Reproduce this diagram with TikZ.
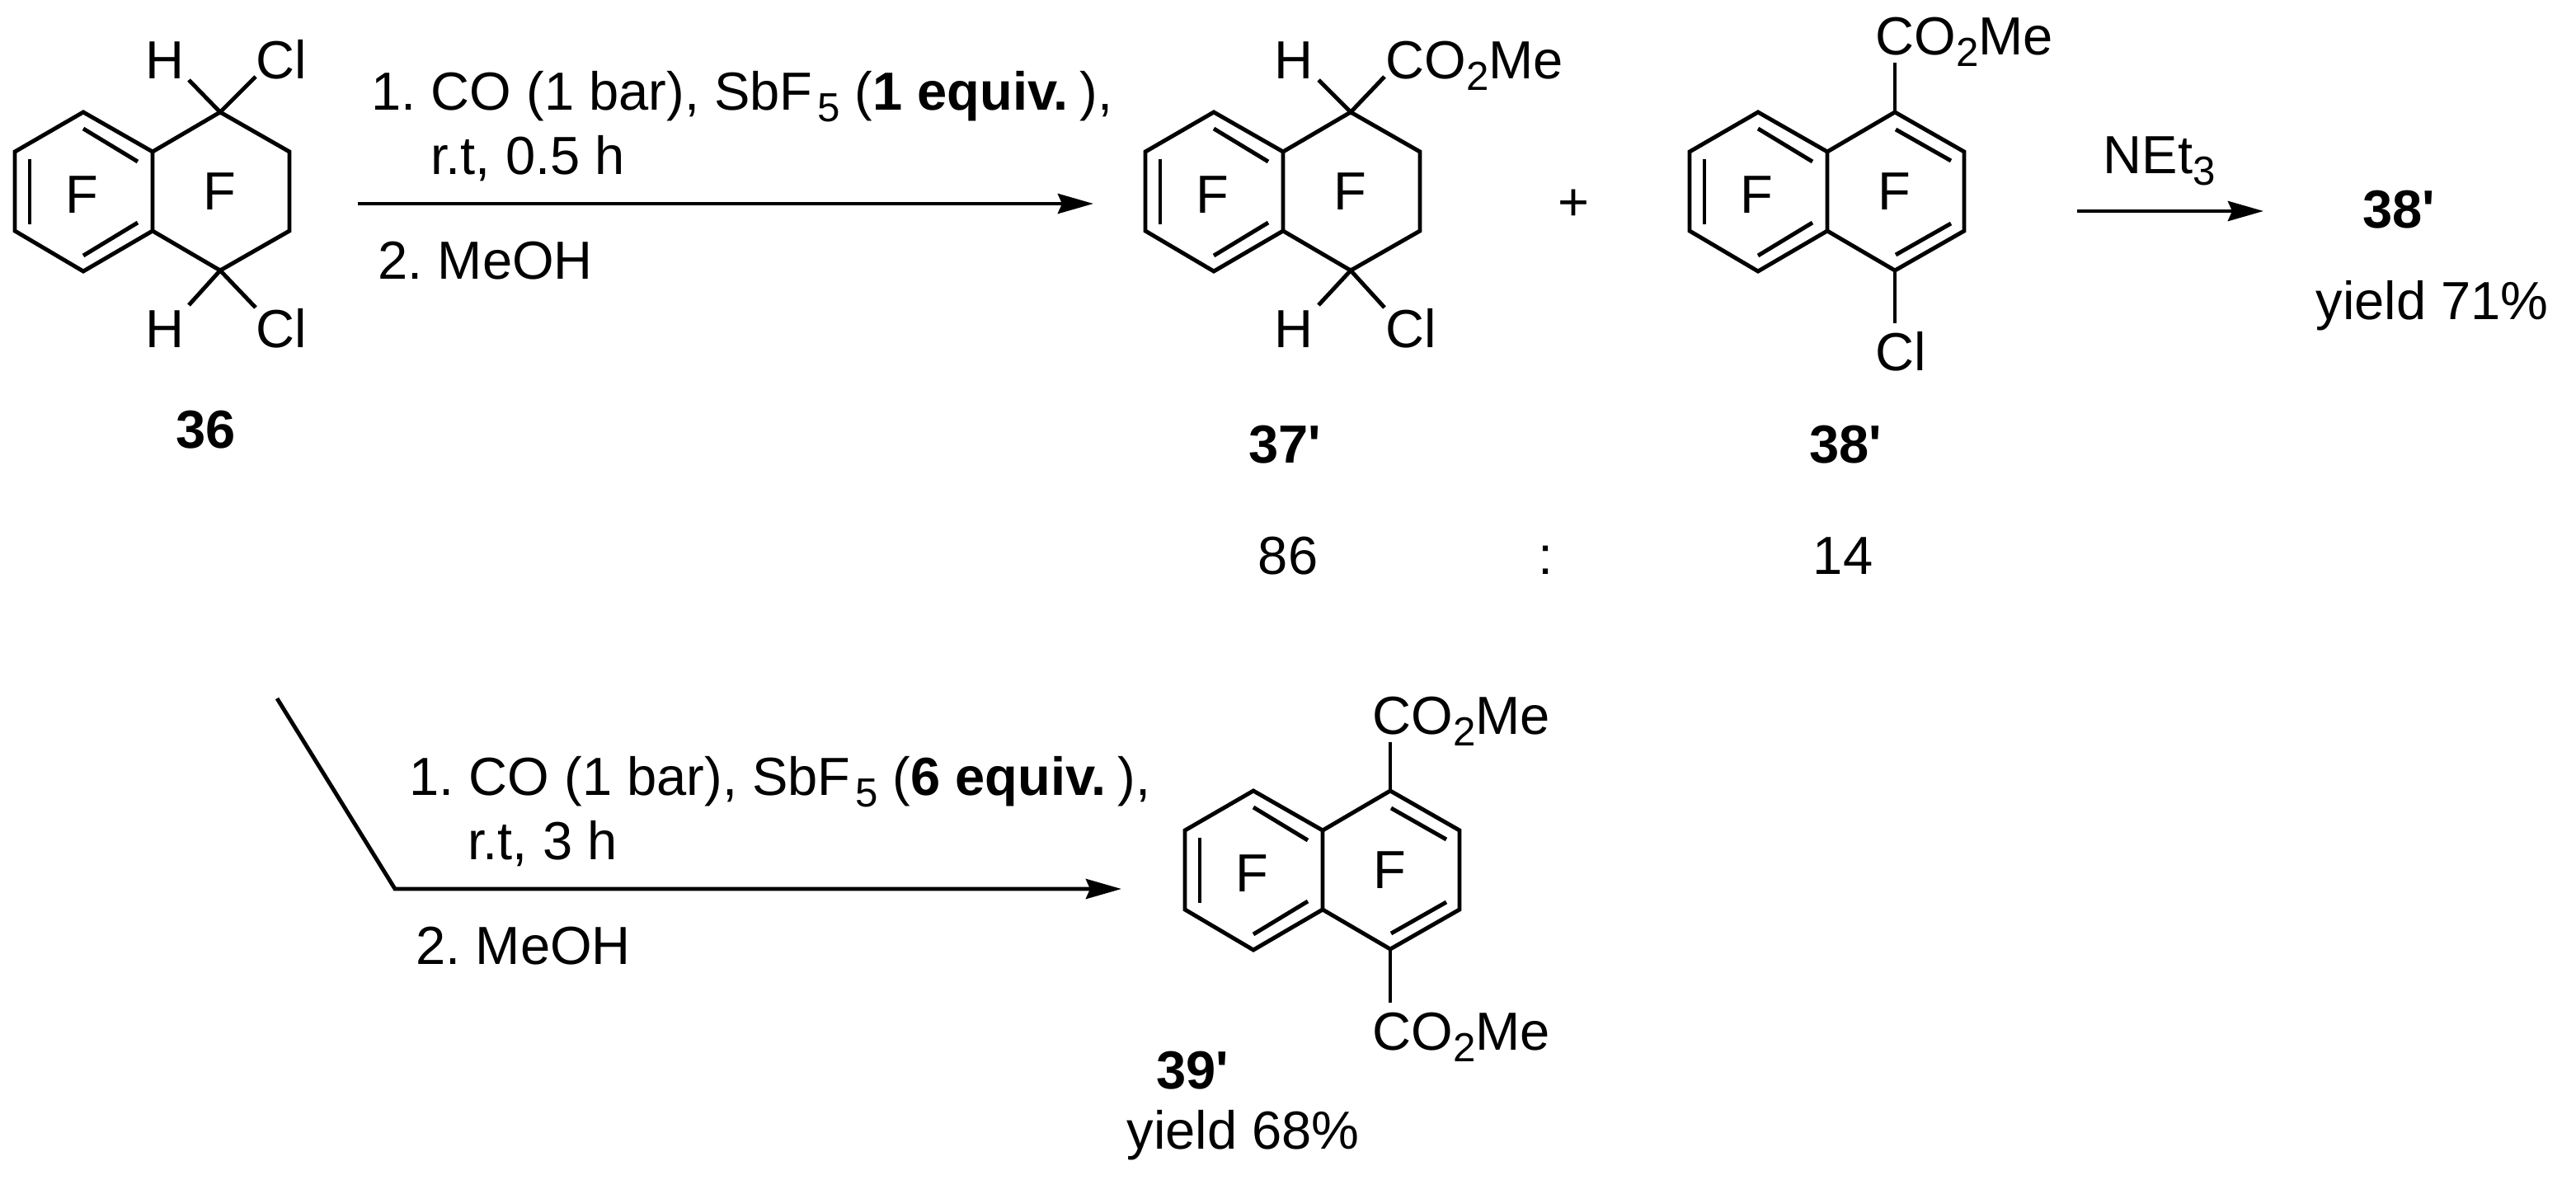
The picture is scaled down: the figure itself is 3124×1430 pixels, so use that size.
\documentclass[tikz,border=0pt]{standalone}
\usepackage{fontspec}
\setmainfont{Liberation Sans}[Ligatures=TeXOff]
\usetikzlibrary{arrows.meta}
\usetikzlibrary{positioning}
\frenchspacing
\newcommand{\subs}[1]{\raisebox{-4pt}{\fontsize{14}{14}\selectfont #1}}
\newcommand{\ester}{CO\subs{2}Me}
\newcommand{\reagent}[1]{1. CO (1 bar), SbF\kern1.5pt\subs{5} (\textbf{#1 equiv.}\kern4pt),}
\tikzset{
	bond/.style={line width=1.4pt},
	react/.style={line width=1.4pt, -{Stealth[length=0.43cm,width=0.24cm,inset=0.05cm]}},
	txtw/.style={anchor=base west, inner sep=0pt, font=\fontsize{18.5}{22}\selectfont},
	txtc/.style={anchor=base, inner sep=0pt, font=\fontsize{18.5}{22}\selectfont},
	boldc/.style={anchor=base, inner sep=0pt, font=\fontsize{18.5}{22}\selectfont\bfseries}
}
%two fused rings with the three fixed double bonds
\newcommand{\skeleton}{
	\coordinate (a) at (101,136);
	\coordinate (b) at (18,184);
	\coordinate (c) at (18,280);
	\coordinate (d) at (101,329);
	\coordinate (e) at (185,280);
	\coordinate (f) at (185,184);
	\coordinate (g) at (267,136);
	\coordinate (h) at (351,184);
	\coordinate (i) at (351,280);
	\coordinate (j) at (267,328);
	\draw[bond] (f) -- (a) -- (b) -- (c) -- (d) -- (e) -- cycle;
	\draw[bond] (f) -- (g) -- (h) -- (i) -- (j) -- (e);
	\coordinate (a1) at (101,156);
	\coordinate (a2) at (167,196);
	\coordinate (b1) at (36,193);
	\coordinate (b2) at (36,272);
	\coordinate (d1) at (101,310);
	\coordinate (d2) at (167,270);
	\draw[bond] (a1) -- (a2);
	\draw[bond] (b1) -- (b2);
	\draw[bond] (d1) -- (d2);
}
%double bonds of the second ring
\newcommand{\secondring}{
	\coordinate (g1) at (268,157);
	\coordinate (g2) at (335,195);
	\coordinate (j1) at (268,309);
	\coordinate (j2) at (335,271);
	\draw[bond] (g1) -- (g2);
	\draw[bond] (j1) -- (j2);
}
\begin{document}
\begin{tikzpicture}[x=0.01cm,y=-0.01cm]
		\useasboundingbox (0,0) rectangle (3124,1430);

		%compound 36
		\begin{scope}[name prefix=s-]
			\skeleton
			\coordinate (h1) at (229,97);
			\coordinate (r1) at (310,93);
			\coordinate (h2) at (229,370);
			\coordinate (r2) at (310,373);
			\draw[bond] (h1) -- (g) -- (r1);
			\draw[bond] (h2) -- (j) -- (r2);
			\node[txtw] (fa) at (79,258) {F};
			\node[txtw] (fb) at (246,254) {F};
			\node[txtc] (ha) at (200,95) {H};
			\node[txtw] (cla) at (310,95) {Cl};
			\node[txtc] (hb) at (200,421) {H};
			\node[txtw] (clb) at (310,421) {Cl};
		\end{scope}
		\node[boldc] (n36) at (250,543) {36};

		%first arrow and conditions
		\coordinate (ar1s) at (434,247);
		\coordinate (ar1e) at (1326,247);
		\draw[react] (ar1s) -- (ar1e);
		\node[txtw] (c1a) at (450,133) {\reagent{1}};
		\node[txtw] (c1b) at (522,211) {r.t, 0.5 h};
		\node[txtw] (c1c) at (458,338) {2. MeOH};

		%compound 37'
		\begin{scope}[shift={(1371,0)},name prefix=t-]
			\skeleton
			\coordinate (h1) at (228,97);
			\coordinate (r1) at (308,93);
			\coordinate (h2) at (228,370);
			\coordinate (r2) at (308,373);
			\draw[bond] (h1) -- (g) -- (r1);
			\draw[bond] (h2) -- (j) -- (r2);
			\node[txtw] (fa) at (79,258) {F};
			\node[txtw] (fb) at (246,254) {F};
			\node[txtc] (ha) at (198,95) {H};
			\node[txtw] (ea) at (309,95) {\ester};
			\node[txtc] (hb) at (198,421) {H};
			\node[txtw] (clb) at (309,421) {Cl};
		\end{scope}
		\node[boldc] (n37) at (1558,561) {37'};
		\node[txtc] (plus) at (1908,267) {+};

		%compound 38'
		\begin{scope}[shift={(2031,0)},name prefix=u-]
			\skeleton
			\secondring
			\coordinate (r1) at (267,76);
			\coordinate (r2) at (267,392);
			\draw[bond] (r1) -- (g);
			\draw[bond] (r2) -- (j);
			\node[txtw] (fa) at (79,258) {F};
			\node[txtw] (fb) at (246,254) {F};
			\node[txtw] (ea) at (243,66) {\ester};
			\node[txtw] (clb) at (243,449) {Cl};
		\end{scope}
		\node[boldc] (n38) at (2238,561) {38'};

		%ratio
		\node[txtc] (r86) at (1562,696) {86};
		\node[txtc] (rcol) at (1875,696) {:};
		\node[txtc] (r14) at (2235,696) {14};

		%second arrow
		\coordinate (ar2s) at (2519,256);
		\coordinate (ar2e) at (2745,256);
		\draw[react] (ar2s) -- (ar2e);
		\node[txtw] (net) at (2550,210) {NEt\subs{3}};
		\node[boldc] (n38b) at (2909,276) {38'};
		\node[txtw] (y71) at (2808,387) {yield 71\%};

		%lower route
		\coordinate (ar3a) at (336,847);
		\coordinate (ar3b) at (479,1078);
		\coordinate (ar3c) at (1360,1078);
		\draw[react] (ar3a) -- (ar3b) -- (ar3c);
		\node[txtw] (c2a) at (496,964) {\reagent{6}};
		\node[txtw] (c2b) at (567,1042) {r.t, 3 h};
		\node[txtw] (c2c) at (504,1169) {2. MeOH};

		%compound 39'
		\begin{scope}[shift={(1419,823)},name prefix=v-]
			\skeleton
			\secondring
			\coordinate (r1) at (267,77);
			\coordinate (r2) at (267,393);
			\draw[bond] (r1) -- (g);
			\draw[bond] (r2) -- (j);
			\node[txtw] (fa) at (79,258) {F};
			\node[txtw] (fb) at (246,254) {F};
			\node[txtw] (ea) at (245,67) {\ester};
			\node[txtw] (eb) at (245,450) {\ester};
		\end{scope}
		\node[boldc] (n39) at (1446,1320) {39'};
		\node[txtw] (y68) at (1366,1393) {yield 68\%};
\end{tikzpicture}
\end{document}
